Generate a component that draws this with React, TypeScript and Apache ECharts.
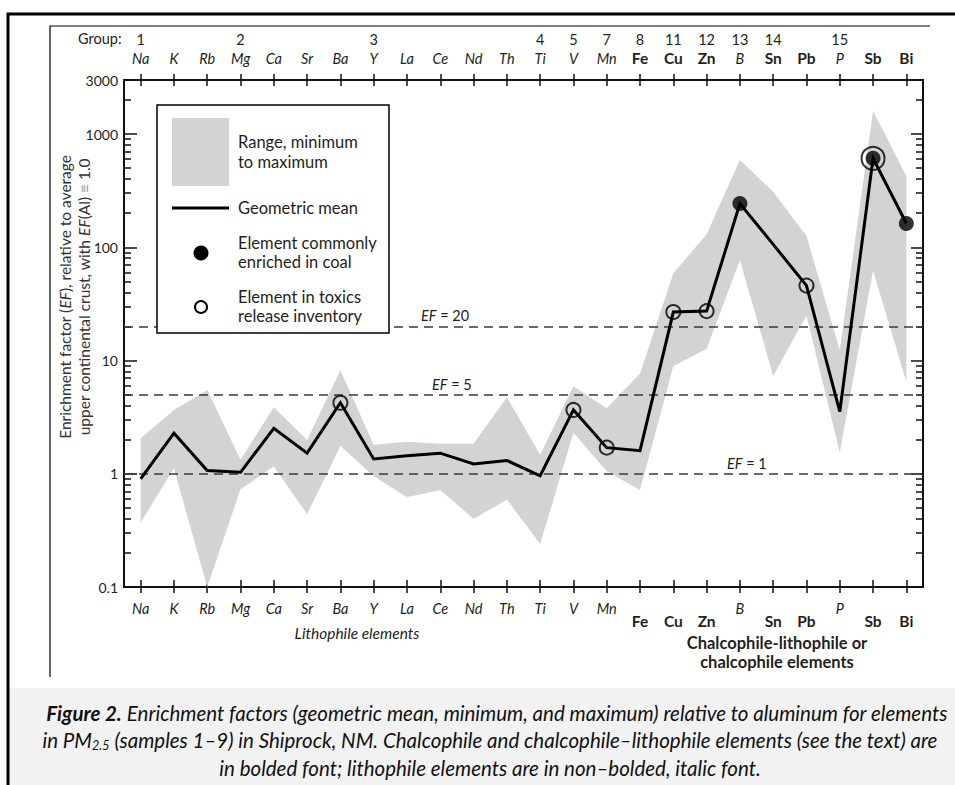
import React, { useEffect, useRef } from "react";
import * as echarts from "echarts";

// ---------- data ----------
const elements = ["Na","K","Rb","Mg","Ca","Sr","Ba","Y","La","Ce","Nd","Th","Ti","V","Mn","Fe","Cu","Zn","B","Sn","Pb","P","Sb","Bi"];
const chalcophile = ["Fe","Cu","Zn","Sn","Pb","Sb","Bi"];
const groupNumbers = ["1","","","2","","","","3","","","","","4","5","7","8","11","12","13","14","","15","",""];
const geoMean = [0.90,2.28,1.07,1.03,2.52,1.52,4.24,1.35,1.44,1.52,1.22,1.31,0.96,3.66,1.70,1.60,26.8,27.3,243,106,45.9,3.53,610,162];
const rangeMax = [2.06,3.66,5.48,1.33,3.86,1.99,8.2,1.80,1.92,1.84,1.84,4.73,1.47,5.94,3.78,7.69,59,130,590,310,126,12.3,1600,426];
const rangeMin = [0.37,1.12,0.10,0.73,1.16,0.44,1.76,0.95,0.62,0.72,0.40,0.59,0.24,2.3,1.05,0.72,8.9,12.7,77,7.3,25,1.54,62,6.5];
const coalEnriched = ["B","Sb","Bi"];
const toxicsInventory = ["Ba","V","Mn","Cu","Zn","Pb","Sb"];
const efLines = [20, 5, 1];
const yTickLabels = [0.1, 1, 10, 100, 1000, 3000];
const majorTicks = [0.1, 1, 10, 100, 1000, 3000];
const minorTicks = [0.2,0.3,0.4,0.5,0.6,0.7,0.8,0.9,2,3,4,5,6,7,8,9,20,30,40,50,60,70,80,90,200,300,400,500,600,700,800,900,2000];

const FONT = "Lato, 'Open Sans', 'Noto Sans', sans-serif";
const TXT = "#231f20";

export default function App() {
  const ref = useRef<HTMLDivElement>(null);
  useEffect(() => {
    if (!ref.current) return;
    const chart = echarts.init(ref.current, null, { renderer: "svg" });

    const axisLineStyle = { color: "#111", width: 2 };
    const tickStyle = { color: "#111", width: 1.5 };

    const botFormatter = (v: string) => (chalcophile.includes(v) ? `{b|${v}}` : `{i|${v}}`);
    const topFormatter = (v: string) => (chalcophile.includes(v) ? `{bt|${v}}` : `{i|${v}}`);
    const richLabels = {
      i: { fontStyle: "italic", fontSize: 14.5, color: TXT, fontFamily: FONT },
      b: { fontWeight: "bold", fontSize: 15.5, color: TXT, fontFamily: FONT, padding: [12, 0, 0, 0] },
      bt: { fontWeight: "bold", fontSize: 15.5, color: TXT, fontFamily: FONT },
    };

    const efLabelPos: Record<number, number[]> = { 20: [297, 3], 5: [308, 3], 1: [603, 3] };

    const option: any = {
      animation: false,
      grid: { left: 124, right: 32, top: 80, bottom: 198, containLabel: false },
      xAxis: [
        {
          type: "category", data: elements, position: "bottom", boundaryGap: true,
          axisLine: { show: true, lineStyle: axisLineStyle },
          axisTick: { show: true, alignWithLabel: true, length: 6, lineStyle: tickStyle },
          axisLabel: { interval: 0, margin: 14, formatter: botFormatter, rich: richLabels },
          splitLine: { show: false },
        },
        {
          type: "category", data: elements, position: "top", boundaryGap: true,
          axisLine: { show: true, lineStyle: axisLineStyle },
          axisTick: { show: true, alignWithLabel: true, length: 6, lineStyle: tickStyle },
          axisLabel: { interval: 0, margin: 14, formatter: topFormatter, rich: richLabels },
          splitLine: { show: false },
        },
        {
          type: "category", data: elements, position: "bottom", boundaryGap: true,
          axisLine: { show: false },
          axisTick: { show: true, inside: true, alignWithLabel: true, length: 7, lineStyle: tickStyle },
          axisLabel: { show: false },
          splitLine: { show: false },
        },
        {
          type: "category", data: elements, position: "top", boundaryGap: true,
          axisLine: { show: false },
          axisTick: { show: true, inside: true, alignWithLabel: true, length: 6, lineStyle: tickStyle },
          axisLabel: {
            interval: 0, margin: 33, fontSize: 14.5, color: TXT, fontFamily: FONT,
            formatter: (_v: string, idx: number) => groupNumbers[idx] || "",
          },
          splitLine: { show: false },
        },
      ],
      yAxis: [
        {
          type: "log", min: 0.1, max: 3000, position: "left",
          axisLine: { show: true, onZero: false, lineStyle: axisLineStyle },
          axisTick: { show: true, inside: true, length: 13, lineStyle: tickStyle, customValues: majorTicks },
          axisLabel: {
            show: true, customValues: yTickLabels, margin: 6, fontSize: 14, color: TXT, fontFamily: FONT,
            formatter: (v: number) => (v < 1 ? v.toFixed(1) : String(Math.round(v))),
          },
          splitLine: { show: false },
          minorTick: { show: false },
        },
        {
          type: "log", min: 0.1, max: 3000, position: "left",
          axisLine: { show: false },
          axisTick: { show: true, inside: true, length: 7, lineStyle: tickStyle, customValues: minorTicks },
          axisLabel: { show: false },
          splitLine: { show: false },
        },
        {
          type: "log", min: 0.1, max: 3000, position: "right",
          axisLine: { show: true, onZero: false, lineStyle: axisLineStyle },
          axisTick: { show: true, inside: true, length: 12, lineStyle: tickStyle, customValues: majorTicks },
          axisLabel: { show: false },
          splitLine: { show: false },
        },
        {
          type: "log", min: 0.1, max: 3000, position: "right",
          axisLine: { show: false },
          axisTick: { show: true, inside: true, length: 7, lineStyle: tickStyle, customValues: minorTicks },
          axisLabel: { show: false },
          splitLine: { show: false },
        },
      ],
      series: [
        {
          type: "custom",
          name: "range",
          xAxisIndex: 0, yAxisIndex: 0,
          silent: true,
          z: 1,
          data: [[0, 1]],
          renderItem: (params: any, api: any) => {
            if (params.dataIndex !== 0) return null;
            const pts: number[][] = [];
            for (let i = 0; i < elements.length; i++) pts.push(api.coord([i, rangeMax[i]]));
            for (let i = elements.length - 1; i >= 0; i--) pts.push(api.coord([i, rangeMin[i]]));
            return { type: "polygon", shape: { points: pts }, style: { fill: "#d1d3d4" } };
          },
        },
        {
          type: "line",
          name: "ef",
          xAxisIndex: 0, yAxisIndex: 0,
          data: geoMean,
          symbol: "none",
          silent: true,
          z: 2,
          lineStyle: { width: 0, opacity: 0 },
          markLine: {
            silent: true,
            symbol: ["none", "none"],
            z: 2,
            lineStyle: { type: [9, 6], color: "#3a3a3a", width: 1.5 },
            emphasis: { disabled: true },
            data: efLines.map((v) => ({
              yAxis: v,
              label: {
                show: true,
                position: "insideStartTop",
                distance: efLabelPos[v],
                formatter: `{i|EF} = ${v}`,
                color: TXT, fontSize: 14.5, fontFamily: FONT,
                rich: { i: { fontStyle: "italic", fontSize: 14.5, color: TXT, fontFamily: FONT } },
              },
            })),
          },
        },
        {
          type: "line",
          name: "Geometric mean",
          xAxisIndex: 0, yAxisIndex: 0,
          data: geoMean,
          symbol: "none",
          silent: true,
          z: 4,
          lineStyle: { color: "#000", width: 3, join: "miter" },
        },
        {
          type: "scatter",
          name: "toxics",
          xAxisIndex: 0, yAxisIndex: 0,
          silent: true,
          z: 5,
          data: toxicsInventory.map((e) => {
            const i = elements.indexOf(e);
            return { value: [i, geoMean[i]], symbolSize: e === "Sb" ? 23 : 14 };
          }),
          symbol: "circle",
          itemStyle: { color: "rgba(0,0,0,0)", borderColor: "#000", borderWidth: 2 },
        },
        {
          type: "scatter",
          name: "coal",
          xAxisIndex: 0, yAxisIndex: 0,
          silent: true,
          z: 6,
          data: coalEnriched.map((e) => {
            const i = elements.indexOf(e);
            return [i, geoMean[i]];
          }),
          symbol: "circle",
          symbolSize: 15,
          itemStyle: { color: "#000" },
        },
      ],
      graphic: [
        // outer frames
        { type: "rect", z: 0, shape: { x: 8, y: 688, width: 947, height: 97 }, style: { fill: "#f2f2f2" } },
        { type: "polyline", z: 50, shape: { points: [[8, 785], [8, 14], [955, 14]] }, style: { stroke: "#000", lineWidth: 3, fill: null } },
        { type: "polyline", z: 50, shape: { points: [[50, 677], [50, 26], [930, 26]] }, style: { stroke: "#000", lineWidth: 1.2, fill: null } },
        // Group label
        { type: "text", z: 50, x: 78, y: 38, style: { text: "Group:", font: `14.5px ${FONT}`, fill: TXT, textVerticalAlign: "middle" } },
        // y-axis title
        {
          type: "text", z: 50, x: 74, y: 297, rotation: Math.PI / 2,
          style: {
            text: "Enrichment factor ({i|EF}), relative to average\nupper continental crust, with {i|EF}(Al) {g|≡} 1.0",
            font: `15.5px ${FONT}`, fill: "#333", align: "center", verticalAlign: "middle", lineHeight: 19,
            rich: {
              i: { fontStyle: "italic", fontSize: 15.5, fontFamily: FONT, fill: "#333" },
              g: { fontSize: 15.5, fontFamily: FONT, fill: "#999" },
            },
          },
        },
        // bottom group captions
        { type: "text", z: 50, x: 357, y: 633, style: { text: "Lithophile elements", font: `italic 15.5px ${FONT}`, fill: TXT, align: "center", verticalAlign: "middle" } },
        { type: "text", z: 50, x: 777, y: 652, style: { text: "Chalcophile-lithophile or\nchalcophile elements", font: `bold 16.5px ${FONT}`, fill: TXT, align: "center", verticalAlign: "middle", lineHeight: 19 } },
        // legend
        {
          type: "group", z: 100,
          children: [
            { type: "rect", z: 100, shape: { x: 157, y: 105, width: 232, height: 228 }, style: { fill: "#fff", stroke: "#000", lineWidth: 1.5 } },
            { type: "rect", z: 101, shape: { x: 172, y: 118, width: 57, height: 68 }, style: { fill: "#d1d3d4" } },
            { type: "text", z: 101, x: 238, y: 152, style: { text: "Range, minimum\nto maximum", font: `16.5px ${FONT}`, fill: TXT, verticalAlign: "middle", lineHeight: 20 } },
            { type: "line", z: 101, shape: { x1: 172, y1: 208, x2: 229, y2: 208 }, style: { stroke: "#000", lineWidth: 3 } },
            { type: "text", z: 101, x: 238, y: 208, style: { text: "Geometric mean", font: `16.5px ${FONT}`, fill: TXT, verticalAlign: "middle" } },
            { type: "circle", z: 101, shape: { cx: 201, cy: 253, r: 7.5 }, style: { fill: "#000" } },
            { type: "text", z: 101, x: 238, y: 252, style: { text: "Element commonly\nenriched in coal", font: `16.5px ${FONT}`, fill: TXT, verticalAlign: "middle", lineHeight: 19 } },
            { type: "circle", z: 101, shape: { cx: 201, cy: 307, r: 6 }, style: { fill: "#fff", stroke: "#000", lineWidth: 2 } },
            { type: "text", z: 101, x: 238, y: 306, style: { text: "Element in toxics\nrelease inventory", font: `16.5px ${FONT}`, fill: TXT, verticalAlign: "middle", lineHeight: 19 } },
          ],
        },
        // caption
        {
          type: "text", z: 50, x: 497, y: 713,
          style: {
            text: "{fb|Figure 2.}{fi| Enrichment factors (geometric mean, minimum, and maximum) relative to aluminum for elements}",
            align: "center", verticalAlign: "middle",
            rich: {
              fb: { font: `italic bold 20.5px ${FONT}`, fill: "#111" },
              fi: { font: `italic 20.5px ${FONT}`, fill: "#111" },
            },
          },
        },
        {
          type: "text", z: 50, x: 490, y: 740,
          style: {
            text: "{fi|in PM}{sub|2.5}{fi| (samples 1–9) in Shiprock, NM. Chalcophile and chalcophile–lithophile elements (see the text) are}",
            align: "center", verticalAlign: "middle",
            rich: {
              fi: { font: `italic 20.5px ${FONT}`, fill: "#111", lineHeight: 24 },
              sub: { font: `italic 12.5px ${FONT}`, fill: "#111", lineHeight: 13, verticalAlign: "bottom" },
            },
          },
        },
        {
          type: "text", z: 50, x: 490, y: 768,
          style: {
            text: "in bolded font; lithophile elements are in non–bolded, italic font.",
            font: `italic 20.5px ${FONT}`, fill: "#111", align: "center", verticalAlign: "middle",
          },
        },
      ],
    };

    chart.setOption(option);
    return () => chart.dispose();
  }, []);

  return (
    <div
      ref={ref}
      style={{ position: "absolute", left: 0, top: 0, width: 955, height: 785, background: "#fff" }}
    />
  );
}
